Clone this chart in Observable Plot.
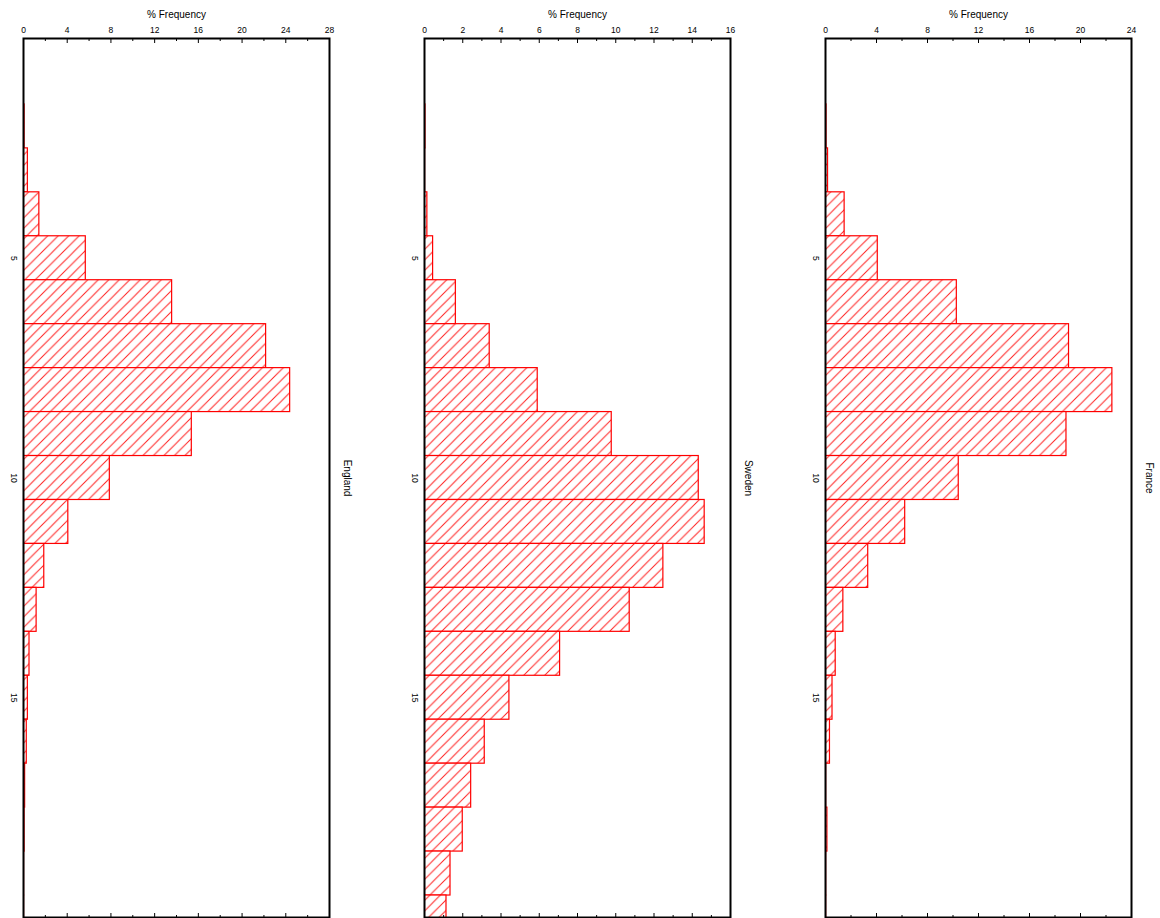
<!DOCTYPE html>
<html><head><meta charset="utf-8">
<script src="https://cdn.jsdelivr.net/npm/d3@7"></script>
<script src="https://cdn.jsdelivr.net/npm/@observablehq/plot@0.6"></script>
<style>
html,body{margin:0;padding:0;background:#fff;overflow:hidden;}
#wrap{position:relative;width:1160px;height:918px;}
#wrap > svg{position:absolute;top:0;}
</style></head><body><div id="wrap"></div>
<script>
const bins = [1,2,3,4,5,6,7,8,9,10,11,12,13,14,15,16,17,18,19,20];
const england = [0,0.1,0.4,1.45,5.7,13.6,22.2,24.4,15.4,7.9,4.1,1.9,1.2,0.55,0.4,0.3,0.15,0.1,0.05,0.05];
const sweden  = [0,0.05,0.03,0.15,0.45,1.64,3.41,5.92,9.79,14.34,14.65,12.49,10.73,7.09,4.44,3.15,2.44,2.0,1.36,1.15];
const france  = [0,0.08,0.2,1.5,4.1,10.3,19.1,22.5,18.9,10.45,6.25,3.35,1.4,0.8,0.55,0.35,0.05,0.15,0.05,0.05];
const countries = ["England","Sweden","France"];
const xMax = [28,16,24];
const majorTicks = [[0,4,8,12,16,20,24,28],[0,2,4,6,8,10,12,14,16],[0,4,8,12,16,20,24]];
const minorTicks = [[2,6,10,14,18,22,26],[1,3,5,7,9,11,13,15],[2,6,10,14,18,22]];
const yTicks = [5,10,15];
const xLabel = "% Frequency";
const series = [england, sweden, france];
const offsets = [0, 401, 802];

const ns = "http://www.w3.org/2000/svg";
function addHatch(svg, id) {
  const defs = document.createElementNS(ns, "defs");
  const pat = document.createElementNS(ns, "pattern");
  const w = 10.5;
  pat.setAttribute("id", id);
  pat.setAttribute("patternUnits", "userSpaceOnUse");
  pat.setAttribute("width", w);
  pat.setAttribute("height", w);
  const bg = document.createElementNS(ns, "rect");
  bg.setAttribute("width", w); bg.setAttribute("height", w); bg.setAttribute("fill", "white");
  const p = document.createElementNS(ns, "path");
  p.setAttribute("d", `M0,${w}L${w},0M-1,1L1,-1M${w-1},${w+1}L${w+1},${w-1}`);
  p.setAttribute("stroke", "#ff2020");
  p.setAttribute("stroke-width", "1");
  pat.appendChild(bg); pat.appendChild(p);
  defs.appendChild(pat);
  svg.insertBefore(defs, svg.firstChild);
}

const wrap = document.getElementById("wrap");
series.forEach((vals, i) => {
  const data = bins.map((b, j) => ({bin: b, value: vals[j]}));
  const id = "hatch" + i;
  const svg = Plot.plot({
    width: 358, height: 918,
    marginLeft: 23, marginRight: 29, marginTop: 38, marginBottom: 1,
    style: {fontFamily: "'Liberation Sans', Arial, sans-serif", fontSize: "8.5px", background: "white", overflow: "visible", color: "black"},
    x: {domain: [0, xMax[i]]},
    y: {domain: [0, 20], reverse: true},
    marks: [
      Plot.rect(data, {x1: 0, x2: "value", y1: d => d.bin - 0.5, y2: d => d.bin + 0.5,
        fill: `url(#${id})`, stroke: "#ff0000", strokeWidth: 1.2, clip: true}),
      Plot.axisX({anchor: "top", ticks: majorTicks[i], tickSize: 0, tickPadding: 6, label: null, tickFormat: d => d, fontSize: 8.5}),
      Plot.axisX({anchor: "top", ticks: majorTicks[i], tickSize: 4, dy: 4, text: null, label: null}),
      Plot.axisX({anchor: "top", ticks: minorTicks[i], tickSize: 2, dy: 2, text: null, label: null}),
      Plot.axisX({anchor: "bottom", ticks: majorTicks[i], tickSize: 4, dy: -4, text: null, label: null}),
      Plot.axisX({anchor: "bottom", ticks: minorTicks[i], tickSize: 2, dy: -2, text: null, label: null}),
      Plot.axisY({anchor: "left", ticks: yTicks, tickSize: 0, tickRotate: 90, tickPadding: 6, label: null, fontSize: 8.5}),
      Plot.frame({stroke: "black", strokeWidth: 2}),
      Plot.text([xLabel], {frameAnchor: "top", dy: -28, text: d => d, fontSize: 10}),
      Plot.text([countries[i]], {frameAnchor: "right", dx: 18, rotate: 90, text: d => d, fontSize: 10, textAnchor: "middle"})
    ]
  });
  addHatch(svg, id);
  svg.style.left = offsets[i] + "px";
  wrap.appendChild(svg);
});
</script>
</body></html>
